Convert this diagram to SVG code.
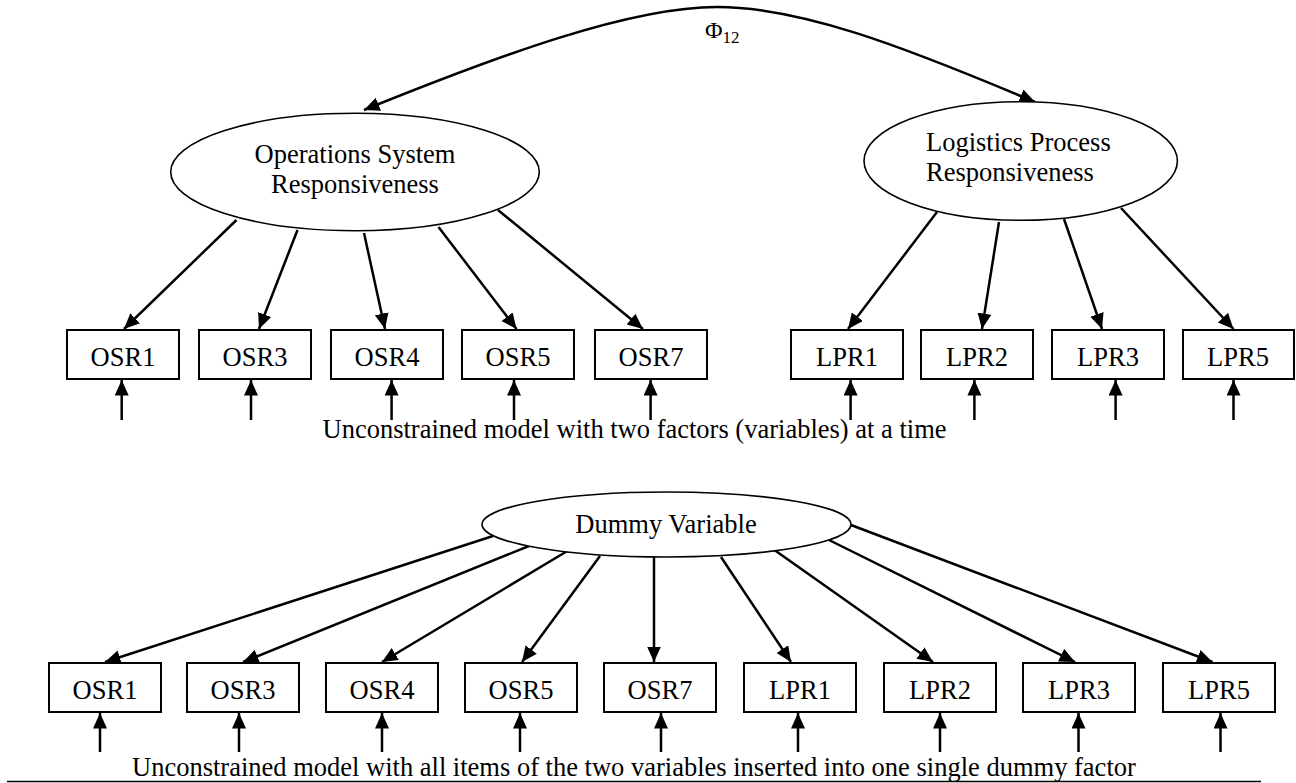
<svg xmlns="http://www.w3.org/2000/svg" width="1296" height="783" viewBox="0 0 1296 783">
<style>
text{font-family:"Liberation Serif","Times New Roman",serif;font-size:26.5px;fill:#000}
.box{fill:#fff;stroke:#000;stroke-width:2}
.ell{fill:#fff;stroke:#000;stroke-width:1.6}
.c{text-anchor:middle}
.conn line,.conn path{stroke:#000;stroke-width:2.5;fill:none;marker-end:url(#ah)}
.phi{font-size:24px}
.sub{font-size:17px}
</style>
<defs>
<marker id="ah" markerUnits="userSpaceOnUse" markerWidth="17" markerHeight="15" refX="15.5" refY="7" orient="auto-start-reverse">
<path d="M0,0 L15.5,7 L0,14 z" fill="#000"/>
</marker>
</defs>
<rect width="1296" height="783" fill="#fff"/>

<g class="conn" id="connectors">
<path d="M364,110 C500,55 630,7 717,7 C800,7 900,45 1035,102" style="marker-start:url(#ah)"/>
<line x1="236.5" y1="220" x2="124" y2="329"/>
<line x1="297.5" y1="230" x2="259" y2="329"/>
<line x1="364" y1="233" x2="385" y2="329"/>
<line x1="438.5" y1="227" x2="516.5" y2="329"/>
<line x1="498" y1="210" x2="643" y2="329"/>
<line x1="937" y1="212" x2="848" y2="329"/>
<line x1="999" y1="222" x2="982" y2="329"/>
<line x1="1064" y1="219" x2="1102" y2="329"/>
<line x1="1121" y1="208" x2="1233.5" y2="329"/>
<line x1="121.7" y1="420" x2="121.7" y2="380"/>
<line x1="251" y1="420" x2="251" y2="380"/>
<line x1="391.6" y1="420" x2="391.6" y2="380"/>
<line x1="514" y1="420" x2="514" y2="380"/>
<line x1="650.6" y1="420" x2="650.6" y2="380"/>
<line x1="850.6" y1="420" x2="850.6" y2="380"/>
<line x1="974.4" y1="420" x2="974.4" y2="380"/>
<line x1="1115.6" y1="420" x2="1115.6" y2="380"/>
<line x1="1233.5" y1="420" x2="1233.5" y2="380"/>
<line x1="493" y1="536" x2="105" y2="662"/>
<line x1="529" y1="546" x2="243" y2="662"/>
<line x1="569" y1="550" x2="382" y2="662"/>
<line x1="600" y1="556" x2="522" y2="662"/>
<line x1="654" y1="557" x2="654" y2="662"/>
<line x1="721" y1="557" x2="791" y2="662"/>
<line x1="773" y1="549" x2="933" y2="662"/>
<line x1="829" y1="540" x2="1075" y2="662"/>
<line x1="851" y1="525" x2="1212.5" y2="662"/>
<line x1="100" y1="752" x2="100" y2="713"/>
<line x1="239" y1="752" x2="239" y2="713"/>
<line x1="382" y1="752" x2="382" y2="713"/>
<line x1="520" y1="752" x2="520" y2="713"/>
<line x1="661" y1="752" x2="661" y2="713"/>
<line x1="798" y1="752" x2="798" y2="713"/>
<line x1="940" y1="752" x2="940" y2="713"/>
<line x1="1078.5" y1="752" x2="1078.5" y2="713"/>
<line x1="1220.5" y1="752" x2="1220.5" y2="713"/>
</g>

<text class="phi" x="705" y="38">Φ<tspan class="sub" dy="5">12</tspan></text>

<g id="osr-factor"><ellipse class="ell" cx="355" cy="172" rx="184.3" ry="58.7"/>
<text class="c" x="355" y="163.3">Operations System</text><text class="c" x="355" y="193.3">Responsiveness</text></g>
<g id="lpr-factor"><ellipse class="ell" cx="1020.7" cy="161" rx="156.7" ry="59.3"/>
<text x="926" y="151">Logistics Process</text><text x="926" y="181">Responsiveness</text></g>

<g id="t-osr1"><rect class="box" x="67" y="330" width="112" height="49"/><text class="c" x="123" y="366">OSR1</text></g>
<g id="t-osr3"><rect class="box" x="199" y="330" width="112" height="49"/><text class="c" x="255" y="366">OSR3</text></g>
<g id="t-osr4"><rect class="box" x="331" y="330" width="112" height="49"/><text class="c" x="387" y="366">OSR4</text></g>
<g id="t-osr5"><rect class="box" x="462" y="330" width="112" height="49"/><text class="c" x="518" y="366">OSR5</text></g>
<g id="t-osr7"><rect class="box" x="595" y="330" width="112" height="49"/><text class="c" x="651" y="366">OSR7</text></g>
<g id="t-lpr1"><rect class="box" x="791" y="330" width="112" height="49"/><text class="c" x="847" y="366">LPR1</text></g>
<g id="t-lpr2"><rect class="box" x="921" y="330" width="112" height="49"/><text class="c" x="977" y="366">LPR2</text></g>
<g id="t-lpr3"><rect class="box" x="1052" y="330" width="112" height="49"/><text class="c" x="1108" y="366">LPR3</text></g>
<g id="t-lpr5"><rect class="box" x="1183" y="330" width="111" height="49"/><text class="c" x="1238" y="366">LPR5</text></g>

<text x="322.5" y="437.5">Unconstrained model with two factors (variables) at a time</text>

<g id="dummy"><ellipse class="ell" cx="666.5" cy="524.5" rx="184.5" ry="32.5"/>
<text class="c" x="666" y="533">Dummy Variable</text></g>

<g id="b-osr1"><rect class="box" x="49" y="663" width="112" height="49"/><text class="c" x="105" y="699">OSR1</text></g>
<g id="b-osr3"><rect class="box" x="187" y="663" width="112" height="49"/><text class="c" x="243" y="699">OSR3</text></g>
<g id="b-osr4"><rect class="box" x="326" y="663" width="112" height="49"/><text class="c" x="382" y="699">OSR4</text></g>
<g id="b-osr5"><rect class="box" x="465" y="663" width="112" height="49"/><text class="c" x="521" y="699">OSR5</text></g>
<g id="b-osr7"><rect class="box" x="604" y="663" width="112" height="49"/><text class="c" x="660" y="699">OSR7</text></g>
<g id="b-lpr1"><rect class="box" x="744" y="663" width="112" height="49"/><text class="c" x="800" y="699">LPR1</text></g>
<g id="b-lpr2"><rect class="box" x="884" y="663" width="112" height="49"/><text class="c" x="940" y="699">LPR2</text></g>
<g id="b-lpr3"><rect class="box" x="1023" y="663" width="112" height="49"/><text class="c" x="1079" y="699">LPR3</text></g>
<g id="b-lpr5"><rect class="box" x="1163" y="663" width="112" height="49"/><text class="c" x="1219" y="699">LPR5</text></g>

<text x="132" y="776">Unconstrained model with all items of the two variables inserted into one single dummy factor</text>
<line x1="7" y1="781.5" x2="1261" y2="781.5" stroke="#000" stroke-width="1.5"/>
</svg>
